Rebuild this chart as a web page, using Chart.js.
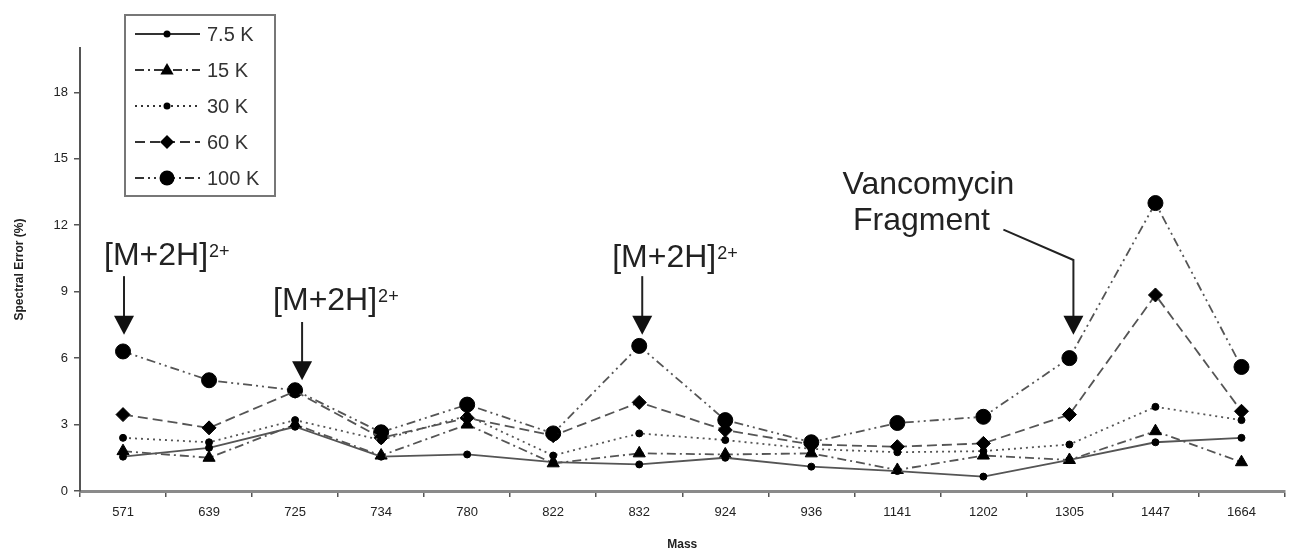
<!DOCTYPE html>
<html>
<head>
<meta charset="utf-8">
<script src="https://cdn.jsdelivr.net/npm/chart.js@4/dist/chart.umd.min.js"></script>
<style>
  html, body { margin: 0; padding: 0; background: #fff; }
  #wrap { width: 1293px; height: 556px; position: relative; }
</style>
</head>
<body>
<div id="wrap"><canvas id="lineChart"></canvas></div>
<script>
// data
var masses = ['571', '639', '725', '734', '780', '822', '832', '924', '936', '1141', '1202', '1305', '1447', '1664']
var err75 = [1.55, 1.95, 2.9, 1.55, 1.65, 1.3, 1.2, 1.5, 1.1, 0.9, 0.65, 1.4, 2.2, 2.4]
var err15 = [1.8, 1.5, 3.0, 1.6, 3.0, 1.25, 1.7, 1.65, 1.7, 0.95, 1.6, 1.4, 2.7, 1.3]
var err30 = [2.4, 2.2, 3.2, 2.3, 3.4, 1.6, 2.6, 2.3, 1.9, 1.75, 1.8, 2.1, 3.8, 3.2]
var err60 = [3.45, 2.85, 4.5, 2.4, 3.3, 2.5, 4.0, 2.75, 2.1, 2.0, 2.15, 3.45, 8.85, 3.6]
var err100 = [6.3, 5.0, 4.55, 2.65, 3.9, 2.6, 6.55, 3.2, 2.2, 3.07, 3.35, 6.0, 13.0, 5.6]
var seriesNames = ['7.5 K', '15 K', '30 K', '60 K', '100 K']
var yTicks = [0, 3, 6, 9, 12, 15, 18]

var fontFam = '"Liberation Sans", Arial, sans-serif'
var lineCol = '#555'

function mkSet(label, data, style, radius, dash) {
  return {
    label: label,
    data: data,
    borderColor: lineCol,
    backgroundColor: '#000',
    pointBackgroundColor: '#000',
    pointBorderColor: '#000',
    borderWidth: 1.8,
    borderDash: dash,
    pointStyle: style,
    pointRadius: radius,
    pointBorderWidth: 1,
    tension: 0,
    fill: false,
  }
}

var datasets = [
  mkSet(seriesNames[0], err75, 'circle', 3.5, []),
  mkSet(seriesNames[1], err15, 'triangle', 7, [9, 4, 2, 4]),
  mkSet(seriesNames[2], err30, 'circle', 3.5, [2, 4]),
  mkSet(seriesNames[3], err60, 'rectRot', 7, [10, 5]),
  mkSet(seriesNames[4], err100, 'circle', 7.5, [9, 4, 2, 4, 2, 4]),
]

// annotations, in category index (+ pixel nudge) and value units
var notes = [
  { text: '[M+2H]', sup: '2+', cat: 0, dx: -19, y: 10.2, arrow: [[0, 1, 9.7], [0, 1, 7.05]] },
  { text: '[M+2H]', sup: '2+', cat: 2, dx: -22, y: 8.17, arrow: [[2, 7, 7.63], [2, 7, 5.0]] },
  { text: '[M+2H]', sup: '2+', cat: 6, dx: -27, y: 10.1, arrow: [[6, 3, 9.7], [6, 3, 7.05]] },
]
var vancoNote = { lines: ['Vancomycin', 'Fragment'], cat: 11, dx: [-141, -148], y: [13.4, 11.8],
  arrow: [[11, -66, 11.8], [11, 4, 10.43], [11, 4, 7.05]] }

function drawMarker(ctx, style, x, y, r) {
  ctx.beginPath()
  if (style === 'circle') {
    ctx.arc(x, y, r, 0, Math.PI * 2)
  } else if (style === 'triangle') {
    ctx.moveTo(x, y - r)
    ctx.lineTo(x + r * 0.95, y + r * 0.65)
    ctx.lineTo(x - r * 0.95, y + r * 0.65)
    ctx.closePath()
  } else if (style === 'rectRot') {
    ctx.moveTo(x, y - r)
    ctx.lineTo(x + r, y)
    ctx.lineTo(x, y + r)
    ctx.lineTo(x - r, y)
    ctx.closePath()
  }
  ctx.fillStyle = '#000'
  ctx.fill()
}

function drawArrow(ctx, pts) {
  ctx.save()
  ctx.strokeStyle = '#222'
  ctx.lineWidth = 2
  ctx.setLineDash([])
  ctx.beginPath()
  ctx.moveTo(pts[0][0], pts[0][1])
  for (var i = 1; i < pts.length - 1; i++) ctx.lineTo(pts[i][0], pts[i][1])
  var tip = pts[pts.length - 1]
  ctx.lineTo(tip[0], tip[1] - 16)
  ctx.stroke()
  ctx.beginPath()
  ctx.moveTo(tip[0], tip[1])
  ctx.lineTo(tip[0] - 10, tip[1] - 19)
  ctx.lineTo(tip[0] + 10, tip[1] - 19)
  ctx.closePath()
  ctx.fillStyle = '#111'
  ctx.fill()
  ctx.restore()
}

var extrasPlugin = {
  id: 'extras',
  afterDraw: function (chart) {
    var ctx = chart.ctx
    var xs = chart.scales.x
    var ys = chart.scales.y
    function px(p) { return [xs.getPixelForValue(p[0]) + p[1], ys.getPixelForValue(p[2])] }

    ctx.save()
    ctx.fillStyle = '#222'
    ctx.textBaseline = 'alphabetic'
    notes.forEach(function (n) {
      var x0 = xs.getPixelForValue(n.cat) + n.dx
      var y0 = ys.getPixelForValue(n.y)
      ctx.font = '32px ' + fontFam
      ctx.textAlign = 'left'
      ctx.fillText(n.text, x0, y0)
      var w = ctx.measureText(n.text).width
      ctx.font = '18px ' + fontFam
      ctx.fillText(n.sup, x0 + w + 1, y0 - 8)
      drawArrow(ctx, n.arrow.map(px))
    })
    ctx.font = '32px ' + fontFam
    ctx.textAlign = 'center'
    vancoNote.lines.forEach(function (t, i) {
      var xc = xs.getPixelForValue(vancoNote.cat) + vancoNote.dx[i]
      ctx.fillText(t, xc, ys.getPixelForValue(vancoNote.y[i]))
    })
    drawArrow(ctx, vancoNote.arrow.map(px))

    // legend box
    var bx = 125, by = 15, bw = 150, bh = 181
    ctx.strokeStyle = '#777'
    ctx.lineWidth = 2
    ctx.strokeRect(bx, by, bw, bh)
    chart.data.datasets.forEach(function (ds, i) {
      var ly = by + 19 + i * 36
      ctx.save()
      ctx.strokeStyle = '#333'
      ctx.lineWidth = 1.8
      ctx.setLineDash(ds.borderDash)
      ctx.beginPath()
      ctx.moveTo(bx + 10, ly)
      ctx.lineTo(bx + 75, ly)
      ctx.stroke()
      ctx.restore()
      drawMarker(ctx, ds.pointStyle, bx + 42, ly, ds.pointRadius)
      ctx.fillStyle = '#333'
      ctx.font = '20px ' + fontFam
      ctx.textAlign = 'left'
      ctx.textBaseline = 'middle'
      ctx.fillText(ds.label, bx + 82, ly + 1)
    })
    ctx.restore()
  }
}

var lineChart = new Chart(document.getElementById('lineChart').getContext('2d'), {
  type: 'line',
  data: { labels: masses, datasets: datasets },
  options: {
    responsive: true,
    maintainAspectRatio: false,
    animation: false,
    layout: { padding: { top: 48, right: 0, left: 0, bottom: 0 } },
    plugins: { legend: { display: false }, tooltip: { enabled: false } },
    scales: {
      x: {
        type: 'category',
        offset: true,
        grid: { drawOnChartArea: false, offset: true, tickLength: 6, color: '#555', lineWidth: 1.5 },
        border: { color: '#8a8a8a', width: 3 },
        ticks: { color: '#222', font: { size: 13, family: fontFam }, padding: 8, maxRotation: 0 },
        title: { display: true, text: 'Mass', color: '#222', font: { size: 12, weight: 'bold', family: fontFam }, padding: { top: 8 } },
        afterFit: function (scale) {
          scale.height = 65
          scale.paddingLeft = 0
          scale.paddingRight = 0
        },
      },
      y: {
        min: 0,
        max: 20,
        afterBuildTicks: function (scale) {
          scale.ticks = yTicks.map(function (v) { return { value: v } })
        },
        grid: { drawOnChartArea: false, tickLength: 6, color: '#555', lineWidth: 1.5 },
        border: { color: '#555', width: 2 },
        ticks: { color: '#222', font: { size: 13, family: fontFam }, padding: 6 },
        title: { display: true, text: 'Spectral Error (%)', color: '#222', font: { size: 12, weight: 'bold', family: fontFam }, padding: { top: 12, bottom: 10 } },
        afterFit: function (scale) { scale.width = 80 },
      },
    },
  },
  plugins: [extrasPlugin],
})
</script>
</body>
</html>
